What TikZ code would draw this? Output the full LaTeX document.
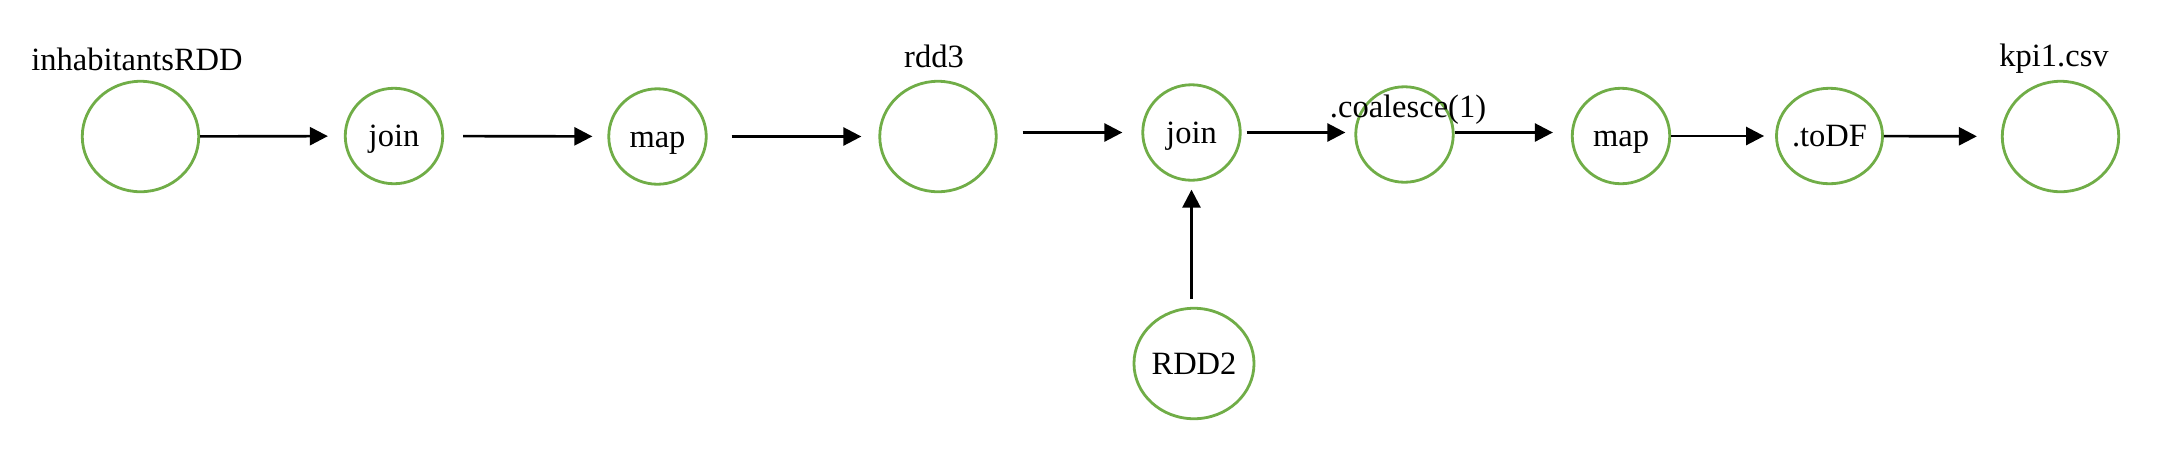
\documentclass[tikz,border=0pt]{standalone}
\usepackage{fontspec}
\setmainfont{Liberation Serif}
\usetikzlibrary{arrows.meta,shapes.geometric}
\definecolor{stagegreen}{RGB}{112,173,71}

\begin{document}
\begin{tikzpicture}[x=0.02cm, y=-0.02cm,
	stage/.style={ellipse, draw=stagegreen, line width=1.6pt,
		minimum width=1.95cm, minimum height=1.91cm, inner sep=0pt,
		font=\fontsize{18.5}{22}\selectfont, text height=16pt, text depth=4pt},
	rdd/.style={stage, minimum width=2.33cm, minimum height=2.21cm},
	tag/.style={anchor=base, inner sep=0pt, font=\fontsize{18.5}{22}\selectfont},
	flow/.style={line width=1.5pt, -{Triangle[length=3.6mm,width=3.6mm]}}]

	% ---- frame

	\useasboundingbox (0,0) rectangle (2164,458);

	% ---- stages

	\node[rdd]   (inh)   at (140.5,136.5) {};
	\node[stage] (join1) at (394,136)     {join};
	\node[stage] (map1)  at (657.5,136.5) {map};
	\node[rdd]   (rdd3)  at (938,136.5)   {};
	\node[stage] (join2) at (1191.5,132.5) {join};
	\node[stage] (coal)  at (1404.5,134.5) {};
	\node[stage] (map2)  at (1621,136)    {map};
	\node[stage] (todf)  at (1829.5,136)  {.toDF};
	\node[rdd]   (kpi)   at (2060.5,136.5) {};
	\node[rdd]   (rdd2)  at (1194,363.5)  {RDD2};

	% ---- names

	\node[tag] (inhname)  at (137,70)   {inhabitantsRDD};
	\node[tag] (rdd3name) at (934,67)   {rdd3};
	\node[tag] (coalname) at (1408,117) {.coalesce(1)};
	\node[tag] (kpiname)  at (2054,66)  {kpi1.csv};

	% ---- arrows

	\draw[flow, shorten >=3.2mm] (inh) -- (join1);
	\draw[flow, shorten <=3.8mm, shorten >=3mm] (join1) -- (map1);
	\draw[flow, shorten <=4.8mm, shorten >=3.4mm] (map1) -- (rdd3);
	\draw[flow, shorten <=5mm, shorten >=3.8mm] (rdd3.east |- join2) -- (join2.west);
	\draw[flow, shorten <=1mm, shorten >=1.8mm] (join2.east) -- (join2.east -| coal.west);
	\draw[flow, shorten >=3.6mm] (coal.east |- join2) -- (map2.west |- join2);
	\draw[flow, shorten >=2.2mm] (map2) -- (todf);
	\draw[flow, shorten >=4.8mm] (todf) -- (kpi);
	\draw[flow, shorten <=1.6mm, shorten >=1.6mm] (rdd2.north -| join2) -- (join2.south);

\end{tikzpicture}
\end{document}
